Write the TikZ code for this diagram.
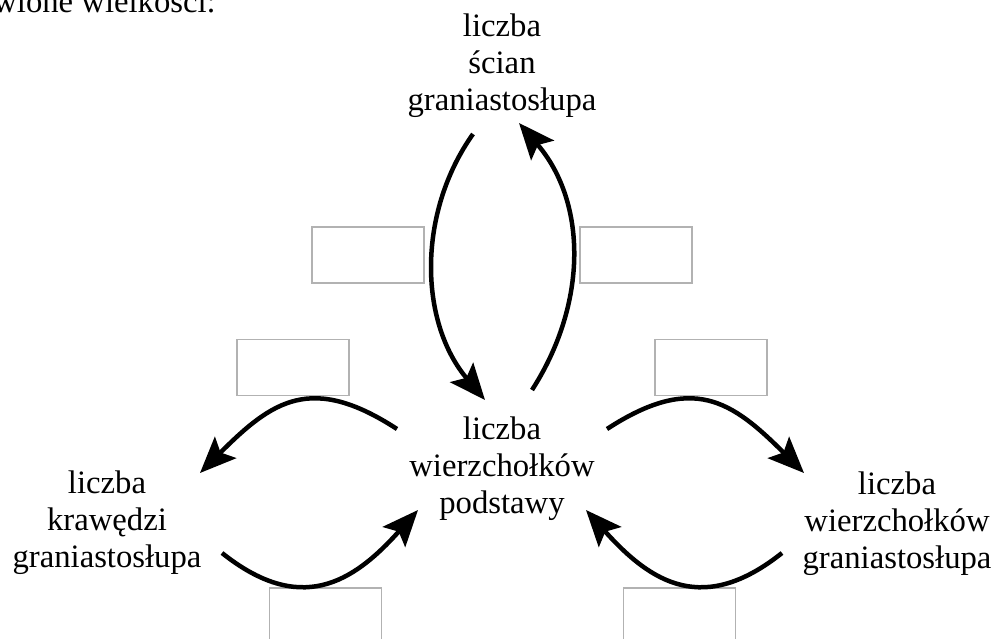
\documentclass[tikz,border=0pt]{standalone}
\usepackage{fontspec}
\setmainfont{Liberation Serif}
\usetikzlibrary{arrows.meta}
\begin{document}
\begin{tikzpicture}[x=1pt,y=-1pt,
  lbl/.style={font=\fontsize{32.7}{37}\selectfont, align=center, inner sep=0pt, anchor=base},
  ansbox/.style={draw=black!30, line width=1.5pt, inner sep=0pt, minimum width=112pt, minimum height=56pt},
  arr/.style={line width=4.5pt, -{Stealth[length=36pt,width=30pt,inset=7pt]}}]
\useasboundingbox (0,0) rectangle (999,639);
% header fragment
\node[lbl, anchor=base east] (hdr) at (216,13) {wione wielkości:};
% labels (base anchor = baseline of the last line)
\node[lbl] (top) at (502,110.5) {liczba\\ścian\\graniastosłupa};
\node[lbl] (mid) at (502,513) {liczba\\wierzchołków\\podstawy};
\node[lbl] (left) at (107,567) {liczba\\krawędzi\\graniastosłupa};
\node[lbl] (right) at (897,568) {liczba\\wierzchołków\\graniastosłupa};
% answer boxes
\node[ansbox] (boxA) at (368,255) {};
\node[ansbox] (boxB) at (636,255) {};
\node[ansbox] (boxC) at (293,367.5) {};
\node[ansbox] (boxD) at (711,367.5) {};
\node[ansbox] (boxE) at (325.5,616) {};
\node[ansbox] (boxF) at (679.5,616) {};
% arrow end points
\coordinate (tlS) at (473,134);  \coordinate (tlE) at (485,400);
\coordinate (trS) at (532,390);  \coordinate (trE) at (519,123);
\coordinate (luS) at (397,429);  \coordinate (luE) at (200,473);
\coordinate (llS) at (222,553);  \coordinate (llE) at (418,510);
\coordinate (ruS) at (607,429);  \coordinate (ruE) at (804,473);
\coordinate (rlS) at (782,553);  \coordinate (rlE) at (586,510);
% arrows
\draw[arr] (tlS) .. controls (417,213) and (419,322) .. (tlE);
\draw[arr] (trS) .. controls (588,303) and (587,202) .. (trE);
\draw[arr] (luS) .. controls (311,373) and (272,401) .. (luE);
\draw[arr] (llS) .. controls (300,615) and (352,584) .. (llE);
\draw[arr] (ruS) .. controls (693,373) and (732,401) .. (ruE);
\draw[arr] (rlS) .. controls (704,615) and (652,584) .. (rlE);
\end{tikzpicture}
\end{document}
